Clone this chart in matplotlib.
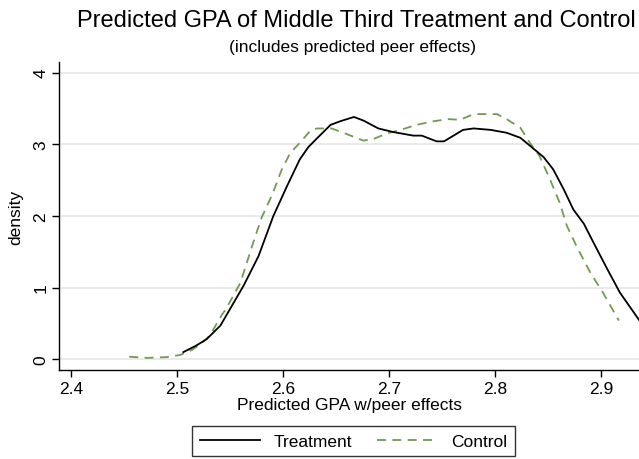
import numpy as np
import matplotlib
matplotlib.use("Agg")
import matplotlib.pyplot as plt

# kernel density curves
treat_x = [2.506, 2.518, 2.528, 2.541, 2.552, 2.563, 2.577, 2.591, 2.604,
           2.616, 2.624, 2.632, 2.645, 2.654, 2.667, 2.676, 2.690, 2.704,
           2.723, 2.731, 2.745, 2.752, 2.761, 2.770, 2.780, 2.796, 2.811,
           2.824, 2.833, 2.846, 2.855, 2.865, 2.874, 2.884, 2.893, 2.906,
           2.918, 2.936]
treat_y = [0.10, 0.19, 0.28, 0.47, 0.75, 1.03, 1.44, 2.00, 2.42,
           2.79, 2.96, 3.08, 3.27, 3.32, 3.38, 3.33, 3.22, 3.17,
           3.12, 3.12, 3.04, 3.04, 3.12, 3.20, 3.22, 3.20, 3.16,
           3.09, 2.98, 2.82, 2.65, 2.37, 2.09, 1.89, 1.63, 1.26,
           0.93, 0.55]

ctrl_x = [2.455, 2.472, 2.490, 2.503, 2.514, 2.522, 2.531, 2.542, 2.547,
          2.560, 2.572, 2.580, 2.590, 2.599, 2.607, 2.616, 2.626, 2.632,
          2.646, 2.657, 2.676, 2.685, 2.698, 2.711, 2.726, 2.742, 2.756,
          2.767, 2.780, 2.802, 2.811, 2.824, 2.833, 2.842, 2.852, 2.861,
          2.868, 2.877, 2.890, 2.902, 2.917]
ctrl_y = [0.036, 0.02, 0.03, 0.06, 0.13, 0.21, 0.33, 0.61, 0.72,
          1.07, 1.63, 1.98, 2.30, 2.65, 2.88, 3.02, 3.19, 3.22,
          3.22, 3.16, 3.05, 3.07, 3.15, 3.20, 3.27, 3.32, 3.35,
          3.34, 3.42, 3.42, 3.35, 3.23, 3.02, 2.84, 2.51, 2.19,
          1.86, 1.58, 1.21, 0.93, 0.54]

xticks = [2.4, 2.5, 2.6, 2.7, 2.8, 2.9]
yticks = [0, 1, 2, 3, 4]

plt.rcParams["font.family"] = ["Liberation Sans", "DejaVu Sans"]

fig = plt.figure(figsize=(6.39, 4.60), dpi=100)
ax = fig.add_axes([0.0928, 0.1935, 0.9072, 0.6685])

for y in yticks:
    ax.axhline(y, color="#e6e6e6", lw=1.2, zorder=0)

ax.plot(treat_x, treat_y, color="black", lw=1.3, label="Treatment", zorder=3)
ax.plot(ctrl_x, ctrl_y, color="#739a52", lw=1.3, ls=(0, (5, 3.5)),
        label="Control", zorder=2)

ax.set_xlim(2.389, 2.936)
ax.set_ylim(-0.149, 4.14)
ax.set_xticks(xticks)
ax.set_xticklabels([f"{t:.1f}" for t in xticks])
ax.set_yticks(yticks)
ax.set_yticklabels([str(t) for t in yticks], rotation=90, va="center")
ax.tick_params(direction="out", length=5, width=1, labelsize=12.5, pad=3)

for side in ["top", "right"]:
    ax.spines[side].set_visible(False)
ax.spines["left"].set_linewidth(1)
ax.spines["bottom"].set_linewidth(1)

ax.set_xlabel("Predicted GPA w/peer effects", fontsize=12.5, labelpad=1)
ax.set_ylabel("density", fontsize=12.5, labelpad=7)

fig.text(0.557, 0.955, "Predicted GPA of Middle Third Treatment and Control",
         ha="center", va="center", fontsize=17)
fig.text(0.552, 0.897, "(includes predicted peer effects)",
         ha="center", va="center", fontsize=12.5)

ax.legend(loc="center", bbox_to_anchor=(0.507, -0.231), ncol=2,
          frameon=True, fancybox=False, edgecolor="black", fontsize=12.5,
          handlelength=3.5, handletextpad=0.75, columnspacing=1.45,
          borderpad=0.45)

fig.savefig("out.png", dpi=100)
